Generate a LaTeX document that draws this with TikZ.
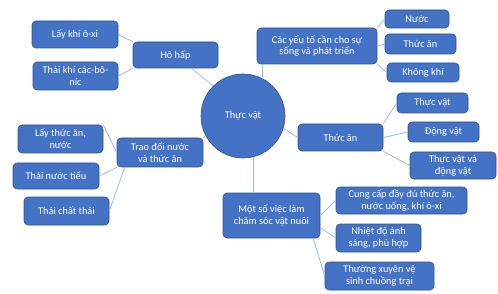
\documentclass[tikz,border=0pt]{standalone}
\usepackage{fontspec}
\setmainfont{Carlito}
\usetikzlibrary{calc}
\definecolor{boxblue}{HTML}{4472C4}
\definecolor{boxedge}{HTML}{2F528F}
\definecolor{linkblue}{HTML}{A9C0E6}

\begin{document}
\begin{tikzpicture}[x=1pt, y=-1pt,
    box/.style={draw=boxedge, line width=0.6pt, fill=boxblue, rounded corners=4pt,
        text=white, align=center, inner sep=1pt, font=\fontsize{10.3}{11.8}\selectfont},
    hub/.style={circle, draw=boxedge, line width=0.6pt, fill=boxblue, text=white,
        minimum size=84pt, inner sep=0pt, font=\fontsize{10.3}{11.8}\selectfont},
    link/.style={draw=linkblue, line width=0.9pt}]
    \useasboundingbox (0,0) rectangle (498,294);

    % centre
    \node[hub] (tv) at (243,116) {Thực vật};

    % main branches
    \node[box, minimum width=85pt, minimum height=26pt] (hohap) at (175.5,55) {Hô hấp};
    \node[box, minimum width=86pt, minimum height=29pt] (traodoi) at (160,152.5) {Trao đổi nước\\và thức ăn};
    \node[box, minimum width=120pt, minimum height=36pt] (yeuto) at (317,46) {Các yếu tố cần cho sự\\sống và phát triển};
    \node[box, minimum width=85pt, minimum height=27pt] (thucan) at (340.5,137.5) {Thức ăn};
    \node[box, minimum width=97pt, minimum height=45pt] (chamsoc) at (271.5,215.5) {Một số việc làm\\chăm sóc vật nuôi};

    % leaves
    \node[box, minimum width=86pt, minimum height=27pt] (laykhi) at (75,34.5) {Lấy khí ô-xi};
    \node[box, minimum width=85pt, minimum height=28pt] (thaikhi) at (75.5,76) {Thải khí các-bô-\\níc};
    \node[box, minimum width=85pt, minimum height=28pt] (layan) at (60.5,139) {Lấy thức ăn,\\nước};
    \node[box, minimum width=86pt, minimum height=26pt] (nuoctieu) at (56,176) {Thải nước tiểu};
    \node[box, minimum width=85pt, minimum height=28pt] (chatthai) at (66.5,211) {Thải chất thải};
    \node[box, minimum width=64pt, minimum height=18pt] (nuoc) at (417,19) {Nước};
    \node[box, minimum width=71pt, minimum height=20pt] (anyeuto) at (420.5,44) {Thức ăn};
    \node[box, minimum width=72pt, minimum height=19pt] (khongkhi) at (423,72.5) {Không khí};
    \node[box, minimum width=71pt, minimum height=20pt] (thucvat) at (432.5,103) {Thực vật};
    \node[box, minimum width=71pt, minimum height=20pt] (dongvat) at (443.5,132) {Động vật};
    \node[box, minimum width=86pt, minimum height=27pt] (cahai) at (453,165.5) {Thực vật và\\động vật};
    \node[box, minimum width=131pt, minimum height=27pt] (cungcap) at (401.5,200.5) {Cung cấp đầy đủ thức ăn,\\nước uống, khí ô-xi};
    \node[box, minimum width=85pt, minimum height=28pt] (nhietdo) at (378.5,238) {Nhiệt độ ánh\\sáng, phù hợp};
    \node[box, minimum width=109pt, minimum height=28pt] (vesinh) at (379.5,276) {Thường xuyên vệ\\sinh chuồng trại};

    % connectors from the centre
    \draw[link] (tv.135) -- (hohap);
    \draw[link] (tv.62) -- (tv.62 |- yeuto.south);
    \draw[link] (tv.-17) -- (thucan.west);
    \draw[link] (tv.208) -- (traodoi.north east);
    \draw[link] (tv.-76) -- (tv.-76 |- chamsoc.north);

    % connectors to the leaves
    \draw[link] (hohap.north west) -- (laykhi.east);
    \draw[link] (hohap.south west) -- (thaikhi.east);
    \draw[link] (traodoi.west) -- (layan.north east);
    \draw[link] (traodoi.south west) -- (nuoctieu.east);
    \draw[link] ([xshift=8pt]traodoi.south west) -- (chatthai.east);
    \draw[link] (yeuto.north east) -- (nuoc.west);
    \draw[link] (yeuto.east) -- (anyeuto.west);
    \draw[link] (yeuto.south east) -- (khongkhi.west);
    \draw[link] (thucan.north east) -- (thucvat.west);
    \draw[link] (thucan.east) -- (dongvat.west);
    \draw[link] (thucan.south east) -- (cahai.west);
    \draw[link] (chamsoc.east) -- (cungcap.west);
    \draw[link] ([yshift=-12pt]chamsoc.east) -- (nhietdo.west);
    \draw[link] ([xshift=-7pt]chamsoc.south east) -- (vesinh.west);
\end{tikzpicture}
\end{document}
